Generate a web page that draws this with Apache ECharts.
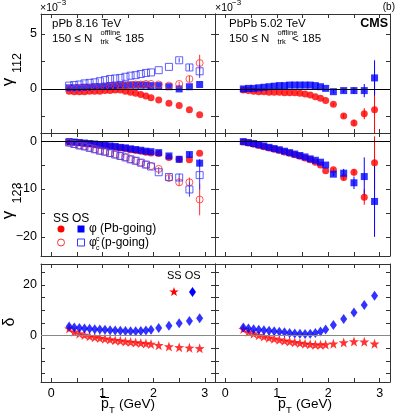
<!DOCTYPE html>
<html>
<head>
<meta charset="utf-8">
<script src="https://cdn.jsdelivr.net/npm/echarts@6/dist/echarts.min.js"></script>
<style>
  html, body { margin: 0; padding: 0; background: #fff; }
  #chart { width: 399px; height: 417px; }
</style>
</head>
<body>
<div id="chart"></div>
<script>
// mean pT of the bins (GeV)
const pt = [0.35, 0.45, 0.55, 0.65, 0.75, 0.85, 0.95, 1.05, 1.15, 1.25, 1.35,
  1.45, 1.55, 1.65, 1.75, 1.85, 1.95, 2.1, 2.3, 2.5, 2.7, 2.9];

// gamma112 (x1e-3), pPb 8.16 TeV
const g112_pPb_ssPb = [-0.2, -0.25, -0.25, -0.25, -0.2, -0.2, -0.2, -0.15, -0.15, -0.1, -0.1,
  -0.2, -0.3, -0.4, -0.5, -0.65, -0.8, -1.0, -1.3, -1.5, -1.9, -2.35];
const g112_pPb_osPb = [0.1, 0.1, 0.1, 0.15, 0.15, 0.2, 0.2, 0.25, 0.3, 0.3, 0.35,
  0.35, 0.35, 0.35, 0.35, 0.35, 0.3, 0.3, 0.2, 0.0, 0.2, 0.4];
const g112_pPb_ssP = [0.0, 0.0, 0.05, 0.05, 0.1, 0.1, 0.15, 0.2, 0.2, 0.25, 0.3,
  0.3, 0.35, 0.4, 0.4, 0.45, 0.45, 0.4, 0.3, 0.45, 0.9, 2.35];
const g112_pPb_osP = [0.3, 0.35, 0.4, 0.5, 0.55, 0.6, 0.7, 0.8, 0.9, 0.95, 1.0,
  1.1, 1.2, 1.25, 1.35, 1.45, 1.5, 1.7, 2.0, 2.6, 1.95, 1.6];
const g112_pPb_ssP_err = [0, 0, 0, 0, 0, 0, 0, 0, 0, 0, 0, 0, 0, 0, 0, 0, 0, 0, 0, 0.2, 0.3, 0.75];
const g112_pPb_osP_err = [0, 0, 0, 0, 0, 0, 0, 0, 0, 0, 0, 0, 0, 0, 0, 0, 0, 0, 0, 0.2, 0.3, 0.6];

// gamma112 (x1e-3), PbPb 5.02 TeV
const g112_PbPb_ss = [-0.1, -0.15, -0.2, -0.25, -0.25, -0.3, -0.3, -0.3, -0.35, -0.35, -0.35,
  -0.4, -0.45, -0.55, -0.7, -0.85, -1.05, -1.4, -2.45, -3.1, -2.25, -1.9];
const g112_PbPb_os = [0.0, 0.05, 0.05, 0.1, 0.15, 0.2, 0.25, 0.3, 0.3, 0.35, 0.35,
  0.35, 0.35, 0.35, 0.3, 0.2, 0.05, -0.25, -0.15, -0.15, -0.15, 1.0];
const g112_PbPb_ss_err = [0, 0, 0, 0, 0, 0, 0, 0, 0, 0, 0, 0, 0, 0, 0, 0, 0, 0.15, 0.2, 0.3, 0.5, 2.6];
const g112_PbPb_os_err = [0, 0, 0, 0, 0, 0, 0, 0, 0, 0, 0, 0, 0, 0, 0, 0, 0, 0.15, 0.2, 0.3, 0.6, 1.6];

// gamma123 (x1e-3), pPb 8.16 TeV
const g123_pPb_ssPb = [-0.15, -0.25, -0.35, -0.5, -0.6, -0.75, -0.9, -1.0, -1.15, -1.3, -1.45,
  -1.6, -1.8, -1.95, -2.1, -2.3, -2.5, -2.6, -3.4, -3.8, -3.9, -2.55];
const g123_pPb_osPb = [-0.1, -0.2, -0.3, -0.4, -0.5, -0.6, -0.75, -0.9, -1.0, -1.1, -1.3,
  -1.4, -1.6, -1.75, -1.9, -2.1, -2.2, -2.4, -3.1, -3.8, -2.8, -4.6];
const g123_pPb_ssP = [-0.3, -0.6, -0.9, -1.1, -1.4, -1.7, -2.0, -2.2, -2.5, -2.8, -3.1,
  -3.4, -3.8, -4.1, -4.5, -4.9, -5.2, -5.8, -7.7, -8.6, -8.6, -12.2];
const g123_pPb_osP = [-0.3, -0.6, -0.9, -1.1, -1.4, -1.7, -2.0, -2.2, -2.5, -2.8, -3.1,
  -3.4, -3.8, -4.1, -4.5, -4.9, -5.3, -6.5, -7.5, -7.6, -10.1, -7.1];
const g123_pPb_osPb_err = [0, 0, 0, 0, 0, 0, 0, 0, 0, 0, 0, 0, 0, 0, 0, 0, 0, 0, 0, 0.4, 0.5, 0.8];
const g123_pPb_ssP_err = [0, 0, 0, 0, 0, 0, 0, 0, 0, 0, 0, 0, 0, 0, 0, 0, 0, 0.4, 0.5, 0.8, 1.0, 3.3];
const g123_pPb_osP_err = [0, 0, 0, 0, 0, 0, 0, 0, 0, 0, 0, 0, 0, 0, 0, 0, 0, 0.4, 0.5, 0.8, 1.5, 3.0];

// gamma123 (x1e-3), PbPb 5.02 TeV
const g123_PbPb_ss = [-0.2, -0.4, -0.65, -0.9, -1.15, -1.45, -1.7, -1.95, -2.25, -2.55, -2.85,
  -3.15, -3.5, -3.9, -4.4, -5.0, -6.2, -6.0, -7.6, -6.5, -11.7, -4.5];
const g123_PbPb_os = [-0.1, -0.3, -0.5, -0.75, -1.0, -1.3, -1.55, -1.8, -2.1, -2.4, -2.7,
  -3.0, -3.3, -3.7, -4.0, -4.4, -5.0, -6.9, -6.7, -8.7, -7.4, -12.6];
const g123_PbPb_ss_err = [0, 0, 0, 0, 0, 0, 0, 0, 0, 0, 0, 0, 0, 0, 0, 0, 0, 0.4, 0.6, 0.7, 1.6, 5.5];
const g123_PbPb_os_err = [0, 0, 0, 0, 0, 0, 0, 0, 0, 0, 0, 0, 0, 0, 0, 0, 0, 0.4, 0.9, 1.3, 4.0, 7.4];

// delta (x1e-3)
const d_pPb_ss = [2.8, 1.5, 0.8, 0.3, -0.2, -0.6, -0.9, -1.2, -1.5, -1.8, -2.0,
  -2.3, -2.5, -2.7, -2.9, -3.1, -3.3, -3.8, -4.3, -4.6, -4.8, -5.0];
const d_pPb_os = [3.6, 3.2, 3.0, 2.8, 2.7, 2.5, 2.4, 2.3, 2.1, 2.0, 1.9,
  1.8, 1.7, 1.7, 1.8, 2.0, 2.3, 3.0, 3.9, 4.9, 5.8, 6.9];
const d_PbPb_ss = [2.6, 1.5, 0.8, 0.2, -0.3, -0.8, -1.2, -1.6, -2.0, -2.3, -2.6,
  -2.9, -3.2, -3.4, -3.6, -3.6, -3.5, -3.2, -2.7, -2.3, -2.4, -3.2];
const d_PbPb_os = [3.2, 2.8, 2.5, 2.3, 2.1, 1.9, 1.7, 1.5, 1.3, 1.1, 0.9,
  0.8, 0.7, 0.8, 1.1, 1.6, 2.4, 4.2, 6.6, 9.1, 12.1, 15.8];

// axis ranges and ticks
const xRange = [-0.2, 3.2];
const xTicks = [0, 0.5, 1, 1.5, 2, 2.5, 3];
const xLabels = [0, 1, 2, 3];
const yRangeTop = [-4, 6.8], yTicksTop = [-2.5, 0, 2.5, 5], yLabelsTop = [0, 5];
const yRangeMid = [-24, 1.7], yTicksMid = [-20, -15, -10, -5, 0], yLabelsMid = [-20, -10, 0];
const yRangeBot = [-18.3, 28.3], yTicksBot = [-15, -10, -5, 0, 5, 10, 15, 20, 25], yLabelsBot = [0, 20];

const FONT = '"Liberation Sans", Arial, sans-serif';
const RED = '#ff0000', BLUE = '#0000ff';
const STAR = 'path://M0,-10 L2.35,-3.24 L9.51,-3.09 L3.8,1.24 L5.88,8.09 L0,4 L-5.88,8.09 L-3.8,1.24 L-9.51,-3.09 L-2.35,-3.24 Z';

const grids = [
  { left: 41, top: 14, width: 174, height: 119 },
  { left: 215, top: 14, width: 175, height: 119 },
  { left: 41, top: 133, width: 174, height: 123 },
  { left: 215, top: 133, width: 175, height: 123 },
  { left: 41, top: 264, width: 174, height: 118 },
  { left: 215, top: 264, width: 175, height: 118 }
];

const fmt = v => (v < 0 ? '\u2212' + Math.abs(v) : String(v));
const frame = { show: true, onZero: false, lineStyle: { color: '#333', width: 1 } };

let xAxes = [], yAxes = [];
function addAxes(gi, yr, yt, yl, showX, showY) {
  xAxes.push({
    type: 'value', gridIndex: gi, position: 'bottom', min: xRange[0], max: xRange[1],
    axisLine: frame, splitLine: { show: false },
    axisTick: { inside: true, length: 4, customValues: xTicks, lineStyle: { color: '#333' } },
    axisLabel: { show: showX, customValues: xLabels, margin: 5, fontSize: 12.5, color: '#000', fontFamily: FONT }
  });
  xAxes.push({
    type: 'value', gridIndex: gi, position: 'top', min: xRange[0], max: xRange[1],
    axisLine: frame, splitLine: { show: false },
    axisTick: { inside: true, length: 4, customValues: xTicks, lineStyle: { color: '#333' } },
    axisLabel: { show: false }
  });
  yAxes.push({
    type: 'value', gridIndex: gi, position: 'left', min: yr[0], max: yr[1],
    axisLine: frame, splitLine: { show: false },
    axisTick: { inside: true, length: 4, customValues: yt, lineStyle: { color: '#333' } },
    axisLabel: { show: showY, customValues: yl, formatter: fmt, margin: 4, fontSize: 12.5, color: '#000', fontFamily: FONT }
  });
  yAxes.push({
    type: 'value', gridIndex: gi, position: 'right', min: yr[0], max: yr[1],
    axisLine: frame, splitLine: { show: false },
    axisTick: { inside: true, length: 4, customValues: yt, lineStyle: { color: '#333' } },
    axisLabel: { show: false }
  });
}
addAxes(0, yRangeTop, yTicksTop, yLabelsTop, false, true);
addAxes(1, yRangeTop, yTicksTop, yLabelsTop, false, false);
addAxes(2, yRangeMid, yTicksMid, yLabelsMid, false, true);
addAxes(3, yRangeMid, yTicksMid, yLabelsMid, false, false);
addAxes(4, yRangeBot, yTicksBot, yLabelsBot, true, true);
addAxes(5, yRangeBot, yTicksBot, yLabelsBot, true, false);

function zeroLine(color) {
  return {
    silent: true, symbol: 'none', label: { show: false },
    lineStyle: { color: color, width: 1, type: 'solid' },
    data: [{ yAxis: 0 }]
  };
}

function pts(gi, vals, symbol, size, style, extra) {
  return Object.assign({
    type: 'scatter', xAxisIndex: gi * 2, yAxisIndex: gi * 2,
    data: pt.map((x, k) => [x, vals[k]]),
    symbol: symbol, symbolSize: size, itemStyle: style, silent: true, z: 3
  }, extra || {});
}

function errs(gi, vals, err, color) {
  return {
    type: 'custom', xAxisIndex: gi * 2, yAxisIndex: gi * 2, silent: true, z: 2,
    data: pt.map((x, k) => [x, vals[k], err[k]]).filter(d => d[2] > 0),
    renderItem: function (params, api) {
      const x = api.value(0), y = api.value(1), e = api.value(2);
      const a = api.coord([x, y - e]), b = api.coord([x, y + e]);
      const cs = params.coordSys;
      const clamp = v => Math.max(cs.y, Math.min(cs.y + cs.height, v));
      return {
        type: 'line',
        shape: { x1: a[0], y1: clamp(a[1]), x2: b[0], y2: clamp(b[1]) },
        style: { stroke: color, lineWidth: 1 }
      };
    }
  };
}

const fillRed = { color: RED };
const fillBlue = { color: BLUE };
const openRed = { color: 'rgba(0,0,0,0)', borderColor: '#ff3030', borderWidth: 1 };
const openBlue = { color: 'rgba(0,0,0,0)', borderColor: '#3838ff', borderWidth: 1 };

const series = [
  // top left
  pts(0, g112_pPb_ssPb, 'circle', 7, fillRed, { markLine: zeroLine('#000') }),
  pts(0, g112_pPb_osPb, 'rect', 7, fillBlue),
  errs(0, g112_pPb_ssP, g112_pPb_ssP_err, '#ff3030'),
  pts(0, g112_pPb_ssP, 'circle', 7, openRed),
  errs(0, g112_pPb_osP, g112_pPb_osP_err, '#3838ff'),
  pts(0, g112_pPb_osP, 'rect', 7, openBlue),
  // top right
  errs(1, g112_PbPb_ss, g112_PbPb_ss_err, RED),
  pts(1, g112_PbPb_ss, 'circle', 7, fillRed, { markLine: zeroLine('#000') }),
  errs(1, g112_PbPb_os, g112_PbPb_os_err, BLUE),
  pts(1, g112_PbPb_os, 'rect', 7, fillBlue),
  // middle left
  pts(2, g123_pPb_ssPb, 'circle', 7, fillRed, { markLine: zeroLine('#000') }),
  errs(2, g123_pPb_osPb, g123_pPb_osPb_err, BLUE),
  pts(2, g123_pPb_osPb, 'rect', 7, fillBlue),
  errs(2, g123_pPb_ssP, g123_pPb_ssP_err, '#ff3030'),
  pts(2, g123_pPb_ssP, 'circle', 7, openRed),
  errs(2, g123_pPb_osP, g123_pPb_osP_err, '#3838ff'),
  pts(2, g123_pPb_osP, 'rect', 7, openBlue),
  // middle right
  errs(3, g123_PbPb_ss, g123_PbPb_ss_err, RED),
  pts(3, g123_PbPb_ss, 'circle', 7, fillRed, { markLine: zeroLine('#000') }),
  errs(3, g123_PbPb_os, g123_PbPb_os_err, BLUE),
  pts(3, g123_PbPb_os, 'rect', 7, fillBlue),
  // bottom
  pts(4, d_pPb_ss, STAR, 10, fillRed, { markLine: zeroLine('#888') }),
  pts(4, d_pPb_os, 'diamond', [7, 10], fillBlue),
  pts(5, d_PbPb_ss, STAR, 10, fillRed, { markLine: zeroLine('#888') }),
  pts(5, d_PbPb_os, 'diamond', [7, 10], fillBlue)
];

function txt(x, y, text, size, extra) {
  const el = {
    type: 'text', x: x, y: y, silent: true,
    style: Object.assign({ text: text, font: size + 'px ' + FONT, fill: '#000', verticalAlign: 'middle' }, (extra && extra.style) || {})
  };
  if (extra && extra.rotation !== undefined) el.rotation = extra.rotation;
  return el;
}
const rot = { rotation: Math.PI / 2, style: { align: 'center' } };

// legend star marker outline (5 points), centred on (174, 292)
const starPts = [[0, -10], [2.35, -3.24], [9.51, -3.09], [3.8, 1.24], [5.88, 8.09], [0, 4],
  [-5.88, 8.09], [-3.8, 1.24], [-9.51, -3.09], [-2.35, -3.24]].map(p => [174 + p[0] * 0.5, 292 + p[1] * 0.5]);

const graphic = [
  // exponent labels
  txt(40, 8, '\u00d710', 10.5), txt(57, 3, '\u22123', 8),
  txt(215, 8, '\u00d710', 10.5), txt(232, 3, '\u22123', 8),
  txt(395, 7, '(b)', 10, { style: { align: 'right' } }),
  // headers
  txt(52, 24, 'pPb 8.16 TeV', 11.5),
  txt(52, 39, '150 \u2264 N', 11.5), txt(100.5, 33, 'offline', 7.5), txt(100.5, 42, 'trk', 7.5), txt(115, 39, '< 185', 11.5),
  txt(229, 24, 'PbPb 5.02 TeV', 11.5),
  txt(229, 39, '150 \u2264 N', 11.5), txt(277.5, 33, 'offline', 7.5), txt(277.5, 42, 'trk', 7.5), txt(292, 39, '< 185', 11.5),
  txt(388, 24, 'CMS', 12.5, { style: { align: 'right', font: 'bold 12.5px ' + FONT } }),
  // y titles
  txt(8, 82, '\u03b3', 17, rot), txt(18, 63, '112', 12.5, rot),
  txt(8, 215, '\u03b3', 17, rot), txt(18, 193, '123', 12.5, rot),
  txt(10, 322, '\u03b4', 16, rot),
  // x titles
  txt(101, 404, 'p', 14), txt(109, 410, 'T', 9.5), txt(119, 404, '(GeV)', 13.5),
  { type: 'line', silent: true, shape: { x1: 101, y1: 397.5, x2: 109, y2: 397.5 }, style: { stroke: '#000', lineWidth: 1 } },
  txt(278, 404, 'p', 14), txt(286, 410, 'T', 9.5), txt(296, 404, '(GeV)', 13.5),
  { type: 'line', silent: true, shape: { x1: 278, y1: 397.5, x2: 286, y2: 397.5 }, style: { stroke: '#000', lineWidth: 1 } },
  // legend (middle)
  txt(53, 219, 'SS', 12), txt(72, 219, 'OS', 12),
  { type: 'circle', silent: true, shape: { cx: 61, cy: 229, r: 3.5 }, style: { fill: RED } },
  { type: 'rect', silent: true, shape: { x: 77.5, y: 225.5, width: 7, height: 7 }, style: { fill: BLUE } },
  txt(89, 229, '\u03c6 (Pb-going)', 12),
  { type: 'circle', silent: true, shape: { cx: 61, cy: 242.5, r: 3.5 }, style: { fill: 'none', stroke: '#ff3030', lineWidth: 1 } },
  { type: 'rect', silent: true, shape: { x: 77.5, y: 239, width: 7, height: 7 }, style: { fill: 'none', stroke: '#3838ff', lineWidth: 1 } },
  txt(89, 243, '\u03c6', 12), txt(96, 239, 'c', 7), txt(96, 248, 'c', 7), txt(101, 243, '(p-going)', 12),
  // legend (bottom)
  txt(167, 276, 'SS OS', 11),
  { type: 'polygon', silent: true, shape: { points: starPts }, style: { fill: RED } },
  { type: 'polygon', silent: true, shape: { points: [[192.5, 287], [196, 292], [192.5, 297], [189, 292]] }, style: { fill: BLUE } }
];

const chart = echarts.init(document.getElementById('chart'), null, { renderer: 'canvas' });
chart.setOption({
  animation: false,
  backgroundColor: '#fff',
  grid: grids,
  xAxis: xAxes,
  yAxis: yAxes,
  series: series,
  graphic: graphic
});
</script>
</body>
</html>
